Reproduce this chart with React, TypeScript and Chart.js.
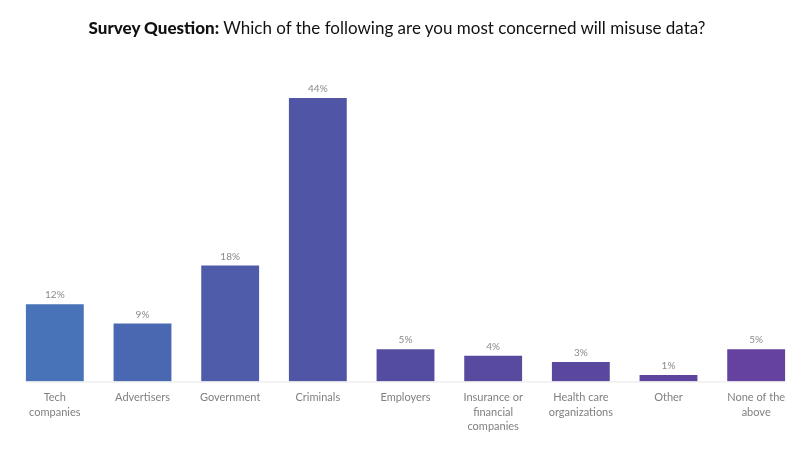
import React, { useEffect, useRef } from "react";
import { Chart, registerables } from "chart.js";

Chart.register(...registerables);

const categories: (string | string[])[] = [
  ["Tech", "companies"],
  "Advertisers",
  "Government",
  "Criminals",
  "Employers",
  ["Insurance or", "financial", "companies"],
  ["Health care", "organizations"],
  "Other",
  ["None of the", "above"],
];
const values: number[] = [12, 9, 18, 44, 5, 4, 3, 1, 5];
const valueLabels: string[] = ["12%", "9%", "18%", "44%", "5%", "4%", "3%", "1%", "5%"];

const FONT = "Lato, 'Noto Sans', sans-serif";

export default function App() {
  const ref = useRef<HTMLCanvasElement>(null);
  useEffect(() => {
    document.body.style.margin = "0";
    const ctx = ref.current!;
    const palette = [
      "#4873b9", "#4a68b2", "#4e5caa", "#5155a5", "#544ca0",
      "#574a9f", "#5a479e", "#5e449d", "#6541a0",
    ];
    const valuePlugin = {
      id: "valueLabels",
      afterDatasetsDraw(chart: any) {
        const c = chart.ctx;
        const meta = chart.getDatasetMeta(0);
        c.save();
        c.fillStyle = "#8a8a8a";
        c.font = `10px ${FONT}`;
        c.textAlign = "center";
        c.textBaseline = "bottom";
        meta.data.forEach((bar: any, i: number) => {
          c.fillText(valueLabels[i], bar.x, bar.y - 4);
        });
        const first = meta.data[0];
        const last = meta.data[meta.data.length - 1];
        const y0 = chart.scales.y.getPixelForValue(0);
        c.strokeStyle = "#e6e6e6";
        c.lineWidth = 1;
        c.beginPath();
        c.moveTo(first.x - first.width / 2, y0 + 0.5);
        c.lineTo(last.x + last.width / 2, y0 + 0.5);
        c.stroke();
        c.restore();
      },
    };
    const chart = new Chart(ctx, {
      type: "bar",
      data: {
        labels: categories,
        datasets: [
          {
            data: values,
            backgroundColor: palette,
            borderWidth: 0,
            barPercentage: 0.66,
            categoryPercentage: 1,
          },
        ],
      },
      options: {
        animation: false,
        responsive: false,
        layout: { padding: { top: 98, left: 11, right: 6, bottom: 7 } },
        plugins: {
          legend: { display: false },
          tooltip: { enabled: false },
          title: { display: false },
        },
        scales: {
          x: {
            grid: { display: false, drawTicks: false },
            border: { display: false },
            ticks: {
              color: "#808080",
              font: { family: FONT, size: 11, lineHeight: 1.32 },
              maxRotation: 0,
              autoSkip: false,
              padding: 9,
            },
          },
          y: {
            display: false,
            min: 0,
            max: 44,
          },
        },
      },
      plugins: [valuePlugin],
    });
    return () => chart.destroy();
  }, []);
  return (
    <div style={{ position: "relative", width: 806, height: 450, background: "#fff" }}>
      <div
        style={{
          position: "absolute",
          top: 17,
          left: -6,
          width: 806,
          textAlign: "center",
          fontFamily: FONT,
          fontSize: 17,
          color: "#111",
        }}
      >
        <span style={{ fontWeight: 900 }}>Survey Question:</span> Which of the following are you most concerned will misuse data?
      </div>
      <canvas ref={ref} width={806} height={450} style={{ display: "block" }} />
    </div>
  );
}
